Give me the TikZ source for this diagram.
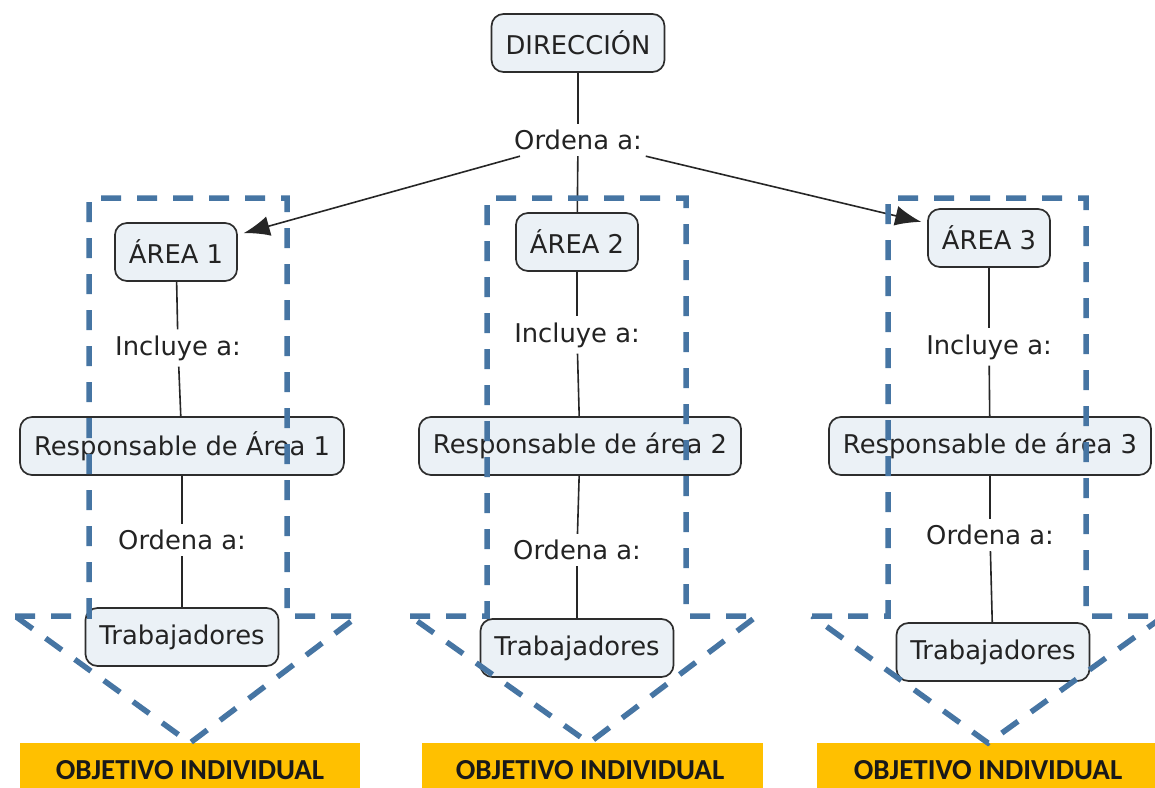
\documentclass[tikz,border=0pt]{standalone}
\usepackage{fontspec}
\setmainfont{DejaVu Sans}
\newfontfamily\goalfont{Carlito}
\usetikzlibrary{arrows.meta}

\definecolor{boxfill}{RGB}{235,241,246}
\definecolor{boxline}{RGB}{45,45,45}
\definecolor{zoneblue}{RGB}{70,117,163}
\definecolor{goldbar}{RGB}{255,192,0}
\definecolor{inktext}{RGB}{35,35,35}

\tikzset{
  concept/.style={draw=boxline, fill=boxfill, line width=1.7pt, rounded corners=12pt,
    inner xsep=14pt, inner ysep=0pt, minimum height=58pt,
    font=\fontsize{25.8}{30}\selectfont, text=inktext},
  linkword/.style={inner sep=6pt, font=\fontsize{25.8}{30}\selectfont, text=inktext},
  link/.style={draw=black!85, line width=1.6pt},
  order/.style={link, -{Latex[length=26pt,width=20pt]}, shorten >=6pt},
  zone/.style={draw=zoneblue, line width=5.5pt, dash pattern=on 20pt off 16pt},
  goalbar/.style={fill=goldbar, draw=none},
  goaltext/.style={font=\goalfont\bfseries\fontsize{29}{34}\selectfont, text=black!90}
}

\begin{document}
\begin{tikzpicture}[x=1pt,y=-1pt]
  \useasboundingbox (0,0) rectangle (1155,787);
  \clip (0,0) rectangle (1155,787);
  \fill[white] (0,0) rectangle (1155,787);

  % goal bars
  \fill[goalbar] (20,743) rectangle (360,800);
  \fill[goalbar] (422,743) rectangle (763,800);
  \fill[goalbar] (817,743) rectangle (1160,800);
  \node[goaltext] (g1) at (190,770) {OBJETIVO INDIVIDUAL};
  \node[goaltext] (g2) at (590,770) {OBJETIVO INDIVIDUAL};
  \node[goaltext] (g3) at (988,770) {OBJETIVO INDIVIDUAL};

  % concepts
  \node[concept] (dir) at (578,43) {DIRECCIÓN};
  \node[linkword] (ord0) at (578,140) {Ordena a:};

  \node[concept] (a1) at (176,252) {ÁREA 1};
  \node[linkword] (inc1) at (178,348) {Incluye a:};
  \node[concept] (r1) at (182,446) {Responsable de Área 1};
  \node[linkword] (ord1) at (182,540) {Ordena a:};
  \node[concept] (t1) at (182,637) {Trabajadores};

  \node[concept] (a2) at (577,242) {ÁREA 2};
  \node[linkword] (inc2) at (577,335) {Incluye a:};
  \node[concept] (r2) at (580,446) {Responsable de área 2};
  \node[linkword] (ord2) at (577,550) {Ordena a:};
  \node[concept] (t2) at (577,648) {Trabajadores};

  \node[concept] (a3) at (989,238) {ÁREA 3};
  \node[linkword] (inc3) at (989,347) {Incluye a:};
  \node[concept] (r3) at (990,446) {Responsable de área 3};
  \node[linkword] (ord3) at (990,535) {Ordena a:};
  \node[concept] (t3) at (993,652) {Trabajadores};

  % connectors
  \draw[link] (dir) -- (ord0);
  \draw[link] (ord0) -- (a2);
  \draw[order] (ord0) -- (a1);
  \draw[order] (ord0) -- (a3);

  \draw[link] (a1) -- (inc1);
  \draw[link] (inc1) -- (r1);
  \draw[link] (r1) -- (ord1);
  \draw[link] (ord1) -- (t1);

  \draw[link] (a2) -- (inc2);
  \draw[link] (inc2) -- (r2);
  \draw[link] (r2) -- (ord2);
  \draw[link] (ord2) -- (t2);

  \draw[link] (a3) -- (inc3);
  \draw[link] (inc3) -- (r3);
  \draw[link] (r3) -- (ord3);
  \draw[link] (ord3) -- (t3);

  % dashed down-arrow zones
  \draw[zone] (15,616) -- (89,616) -- (89,198) -- (287,198) -- (287,616)
              -- (358,616) -- (190,743) -- cycle;
  \draw[zone] (410,616) -- (487,616) -- (487,198) -- (686,198) -- (686,616)
              -- (757,616) -- (589,743) -- cycle;
  \draw[zone] (812,616) -- (888,616) -- (888,198) -- (1086,198) -- (1086,616)
              -- (1164,616) -- (988,743) -- cycle;
\end{tikzpicture}
\end{document}
